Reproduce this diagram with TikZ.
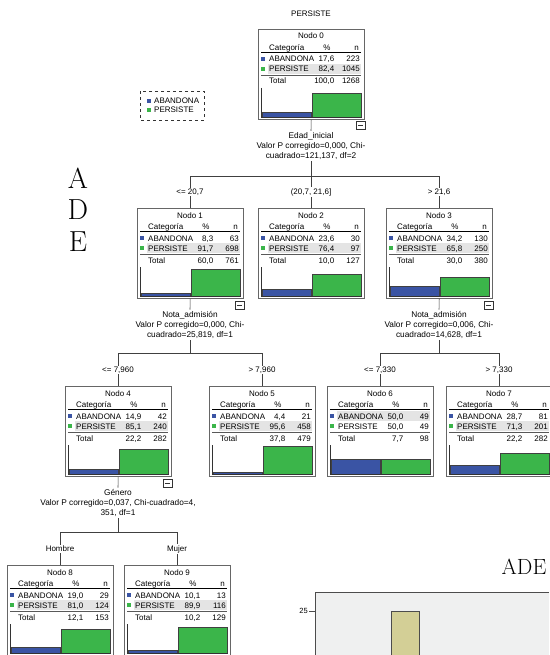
\documentclass[tikz,border=0pt]{standalone}
\usepackage{fontspec}
\newfontfamily\treefont{Liberation Sans}
\definecolor{abandonaBlue}{RGB}{58,84,164}
\definecolor{persisteGreen}{RGB}{59,181,74}
\definecolor{rowGray}{RGB}{228,228,228}
\definecolor{chartGray}{RGB}{239,240,240}
\definecolor{barKhaki}{RGB}{211,207,150}
\def\boxW{106}
\def\boxH{90}
\def\barH{29}
\tikzset{
	txt/.style={font=\treefont\fontsize{8}{10}\selectfont, inner sep=0pt},
	nodebox/.style={draw=gray!80!black, line width=0.8pt, fill=white, anchor=north west, minimum width=\boxW pt, minimum height=\boxH pt, inner sep=0pt},
	statlabel/.style={txt, font=\treefont\fontsize{8.3}{10}\selectfont, align=center, inner sep=1.5pt},
	edgelabel/.style={txt, fill=white, inner sep=1pt},
	edge/.style={black!75, line width=0.7pt},
	minusbox/.style={black!80, line width=0.6pt},
	bigletter/.style={font=\fontsize{29}{30}\selectfont, inner sep=0pt}
}
%one tree node: number, position, % and n for ABANDONA, PERSISTE, Total, highlighted row
\newcommand{\treenode}[9]{
\node[nodebox] (n#1) at #2 {};
\begin{scope}[shift={#2}]
	\fill[rowGray] (10,#9) rectangle (103,#9+10);
	\node[txt, anchor=base] (n#1title) at (53,10) {Nodo #1};
	\node[txt, anchor=base west] (n#1cat) at (11,21.5) {Categoría};
	\node[txt, anchor=base] (n#1pct) at (69,21.5) {\%};
	\node[txt, anchor=base east] (n#1n) at (101,21.5) {n};
	\draw[line width=0.5pt] (3,23.5) -- (103,23.5);
	\fill[abandonaBlue] (3,28) rectangle (7,32);
	\node[txt, anchor=base west] (n#1a) at (11,33) {ABANDONA};
	\node[txt, anchor=base east] (n#1ap) at (76.5,33) {#3};
	\node[txt, anchor=base east] (n#1an) at (102,33) {#4};
	\fill[persisteGreen] (3,38) rectangle (7,42);
	\node[txt, anchor=base west] (n#1p) at (11,43) {PERSISTE};
	\node[txt, anchor=base east] (n#1pp) at (76.5,43) {#5};
	\node[txt, anchor=base east] (n#1pn) at (102,43) {#6};
	\draw[gray!70!black, line width=1pt] (3,46.5) -- (103,46.5);
	\node[txt, anchor=base west] (n#1t) at (11,55) {Total};
	\node[txt, anchor=base east] (n#1tp) at (76.5,55) {#7};
	\node[txt, anchor=base east] (n#1tn) at (102,55) {#8};
	%bars
	\pgfmathsetmacro\hA{#4/#8*\barH}
	\pgfmathsetmacro\hP{#6/#8*\barH}
	\draw[black!80, line width=0.6pt] (3,59) -- (3,88);
	\draw[black!75, line width=0.5pt, fill=abandonaBlue] (4,88) rectangle (53,88-\hA);
	\draw[black!75, line width=0.5pt, fill=persisteGreen] (54,88) rectangle (103,88-\hP);
	\draw[black!80, line width=0.9pt] (3,88) -- (104,88);
\end{scope}
}

\begin{document}
\begin{tikzpicture}[x=1pt, y=-1pt]
	\useasboundingbox (0,0) rectangle (549,655);

	%title and legend
	\node[txt] (title) at (311,14) {PERSISTE};
	\draw[dashed, line width=0.7pt, black!80] (140,91) rectangle (204,120);
	\fill[abandonaBlue] (147,99) rectangle (151,103);
	\node[txt, anchor=base west] (legA) at (154,104) {ABANDONA};
	\fill[persisteGreen] (147,108) rectangle (151,112);
	\node[txt, anchor=base west] (legP) at (154,113) {PERSISTE};

	%page letters
	\node[bigletter] (lA) at (78,178) {A};
	\node[bigletter] (lD) at (78,210) {D};
	\node[bigletter] (lE) at (78,242) {E};
	\node[font=\fontsize{22}{24}\selectfont, inner sep=0pt] (lADE) at (524,567) {ADE};

	%tree nodes
	\treenode{0}{(258,29)}{17,6}{223}{82,4}{1045}{100,0}{1268}{35}
	\treenode{1}{(137,208)}{8,3}{63}{91,7}{698}{60,0}{761}{35}
	\treenode{2}{(258,208)}{23,6}{30}{76,4}{97}{10,0}{127}{35}
	\treenode{3}{(386,208)}{34,2}{130}{65,8}{250}{30,0}{380}{35}
	\treenode{4}{(65,386)}{14,9}{42}{85,1}{240}{22,2}{282}{35}
	\treenode{5}{(209,386)}{4,4}{21}{95,6}{458}{37,8}{479}{35}
	\treenode{6}{(327,386)}{50,0}{49}{50,0}{49}{7,7}{98}{25}
	\treenode{7}{(446,386)}{28,7}{81}{71,3}{201}{22,2}{282}{35}
	\treenode{8}{(7,565)}{19,0}{29}{81,0}{124}{12,1}{153}{35}
	\treenode{9}{(124,565)}{10,1}{13}{89,9}{116}{10,2}{129}{35}

	%split statistics
	\node[statlabel] (s0) at (311,146) {Edad\_inicial\\Valor P corregido=0,000, Chi-\\cuadrado=121,137, df=2};
	\node[statlabel] (s1) at (190,325) {Nota\_admisión\\Valor P corregido=0,000, Chi-\\cuadrado=25,819, df=1};
	\node[statlabel] (s3) at (439,325) {Nota\_admisión\\Valor P corregido=0,006, Chi-\\cuadrado=14,628, df=1};
	\node[statlabel] (s4) at (118,503) {Género\\Valor P corregido=0,037, Chi-cuadrado=4,\\351, df=1};
	\coordinate (j0) at (311,176);
	\coordinate (j1) at (190,353);
	\coordinate (j3) at (439,353);
	\coordinate (j4) at (118,532);

	%connectors
	\draw[edge] (n0) -- (s0);
	\draw[edge] (s0) -- (j0);
	\foreach \c in {1,2,3}
		\draw[edge] (j0) -| (n\c);
	\draw[edge] (n1) -- (s1);
	\draw[edge] (s1) -- (j1);
	\foreach \c in {4,5}
		\draw[edge] (j1) -| (n\c);
	\draw[edge] (n3) -- (s3);
	\draw[edge] (s3) -- (j3);
	\foreach \c in {6,7}
		\draw[edge] (j3) -| (n\c);
	\draw[edge] (n4) -- (s4);
	\draw[edge] (s4) -- (j4);
	\foreach \c in {8,9}
		\draw[edge] (j4) -| (n\c);

	%split values
	\node[edgelabel] (e1) at (190,192) {<= 20,7};
	\node[edgelabel] (e2) at (311,192) {(20,7, 21,6]};
	\node[edgelabel] (e3) at (439,192) {> 21,6};
	\node[edgelabel] (e4) at (118,370) {<= 7,960};
	\node[edgelabel] (e5) at (262,370) {> 7,960};
	\node[edgelabel] (e6) at (380,370) {<= 7,330};
	\node[edgelabel] (e7) at (499,370) {> 7,330};
	\node[edgelabel] (e8) at (60,549) {Hombre};
	\node[edgelabel] (e9) at (177,549) {Mujer};

	%collapse boxes
	\foreach \c in {0,1,3,4} {
		\draw[minusbox, fill=white] (n\c.south east) ++(-9,2) rectangle ++(9,8);
		\draw[minusbox] (n\c.south east) ++(-7,6) -- ++(5,0);
	}

	%start of the bar chart below
	\fill[chartGray] (315,592) rectangle (549,655);
	\draw[black!70, line width=0.8pt] (315,655) -- (315,592) -- (549,592);
	\draw[black!70, line width=0.6pt] (309,611) -- (315,611);
	\node[txt, anchor=east, font=\treefont\fontsize{7.5}{9}\selectfont] (tick25) at (308,611) {25};
	\draw[black!70, line width=0.7pt, fill=barKhaki] (391,657) rectangle (419,611);
\end{tikzpicture}
\end{document}
